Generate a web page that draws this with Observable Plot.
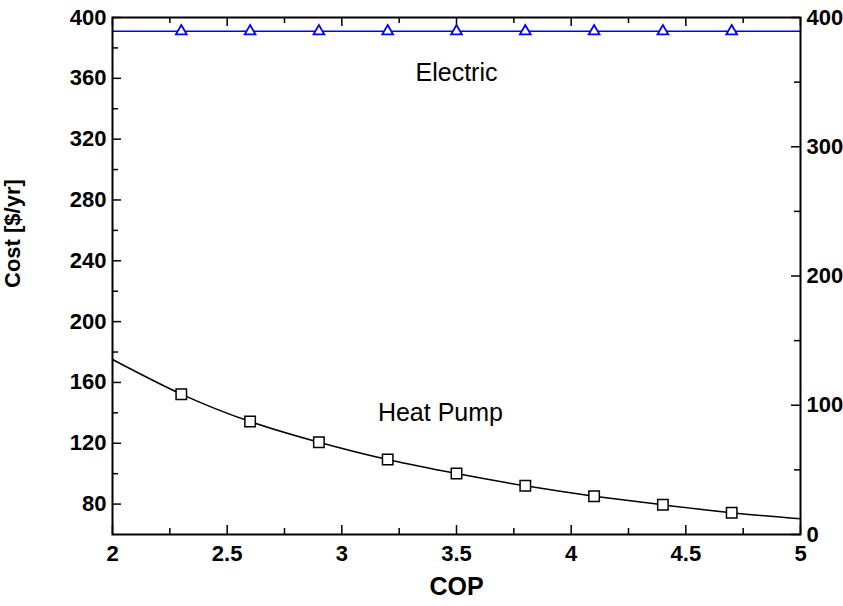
<!DOCTYPE html>
<html>
<head>
<meta charset="utf-8">
<script src="https://cdn.jsdelivr.net/npm/d3@7"></script>
<script src="https://cdn.jsdelivr.net/npm/@observablehq/plot@0.6"></script>
<style>
  html, body { margin: 0; padding: 0; background: #fff; }
</style>
</head>
<body>
<div id="chart"></div>
<script>
// ---- data ----
const cop = [2, 2.3, 2.6, 2.9, 3.2, 3.5, 3.8, 4.1, 4.4, 4.7, 5];
const heatPump = [175.1, 152.3, 134.3, 120.7, 109.3, 100.1, 92.0, 85.2, 79.5, 74.3, 70.3];
const electric = [391, 391, 391, 391, 391, 391, 391, 391, 391, 391, 391];
const markerCop = [2.3, 2.6, 2.9, 3.2, 3.5, 3.8, 4.1, 4.4, 4.7];

// axis ticks
const xMajor = [2, 2.5, 3, 3.5, 4, 4.5, 5];
const xMinor = [2.25, 2.75, 3.25, 3.75, 4.25, 4.75];
const leftMajor = [80, 120, 160, 200, 240, 280, 320, 360, 400];
const leftMinor = [100, 140, 180, 220, 260, 300, 340, 380];
const rightMajor = [0, 100, 200, 300, 400];
const rightMinor = [50, 150, 250, 350];

// labels
const seriesLabels = [
  {name: "Electric", x: 3.5, y: 363.8},
  {name: "Heat Pump", x: 3.43, y: 140.2}
];
const xTitle = "COP";
const yTitle = "Cost [$/yr]";

// left axis domain and right axis mapping (right 0..400 spans the same frame)
const leftDomain = [60, 400];
const rightDomain = [0, 400];
const toLeft = r => leftDomain[0] + (r - rightDomain[0]) * (leftDomain[1] - leftDomain[0]) / (rightDomain[1] - rightDomain[0]);
const fromLeft = v => rightDomain[0] + (v - leftDomain[0]) * (rightDomain[1] - rightDomain[0]) / (leftDomain[1] - leftDomain[0]);

const lineData = cop.map((c, i) => ({cop: c, hp: heatPump[i], el: electric[i]}));
const markerData = lineData.filter(d => markerCop.includes(d.cop));

const W = 843, H = 606;
const mL = 112, mR = 43, mT = 17, mB = 72;
const fw = W - mL - mR, fh = H - mT - mB;
const majorLen = 9, minorLen = 6;
const tickFont = 22;

const chart = Plot.plot({
  width: W,
  height: H,
  marginLeft: mL,
  marginRight: mR,
  marginTop: mT,
  marginBottom: mB,
  style: {fontFamily: "'Liberation Sans', Arial, sans-serif", fontSize: "22px", fontWeight: "bold", color: "black", background: "white"},
  x: {domain: [2, 5]},
  y: {domain: leftDomain},
  marks: [
    // inward ticks
    Plot.tickX(xMajor, {x: d => d, insetTop: fh - majorLen, strokeWidth: 1.5, stroke: "black"}),
    Plot.tickX(xMinor, {x: d => d, insetTop: fh - minorLen, strokeWidth: 1.5, stroke: "black"}),
    Plot.tickX(xMajor, {x: d => d, insetBottom: fh - majorLen, strokeWidth: 1.5, stroke: "black"}),
    Plot.tickX(xMinor, {x: d => d, insetBottom: fh - minorLen, strokeWidth: 1.5, stroke: "black"}),
    Plot.tickY(leftMajor, {y: d => d, insetRight: fw - majorLen, strokeWidth: 1.5, stroke: "black"}),
    Plot.tickY(leftMinor, {y: d => d, insetRight: fw - minorLen, strokeWidth: 1.5, stroke: "black"}),
    Plot.tickY(rightMajor.map(toLeft), {y: d => d, insetLeft: fw - majorLen, strokeWidth: 1.5, stroke: "black"}),
    Plot.tickY(rightMinor.map(toLeft), {y: d => d, insetLeft: fw - minorLen, strokeWidth: 1.5, stroke: "black"}),
    // axis labels
    Plot.axisX({ticks: xMajor, tickSize: 0, tickPadding: 11, tickFormat: d => String(d), label: null, fontSize: tickFont, fontWeight: "bold"}),
    Plot.axisY({anchor: "left", ticks: leftMajor, tickSize: 0, tickPadding: 6, tickFormat: d => String(d), label: null, fontSize: tickFont, fontWeight: "bold"}),
    Plot.axisY({anchor: "right", ticks: rightMajor.map(toLeft), tickSize: 0, tickPadding: 6, tickFormat: d => String(Math.round(fromLeft(d))), label: null, fontSize: tickFont, fontWeight: "bold"}),
    // series
    Plot.line(lineData, {x: "cop", y: "el", stroke: "blue", strokeWidth: 1.5}),
    Plot.line(lineData, {x: "cop", y: "hp", stroke: "black", strokeWidth: 1.5, curve: "natural"}),
    Plot.dot(markerData, {x: "cop", y: "el", symbol: "triangle", r: 4, stroke: "blue", fill: "white", strokeWidth: 1.8}),
    Plot.dot(markerData, {x: "cop", y: "hp", symbol: "square", r: 5.9, stroke: "black", fill: "white", strokeWidth: 1.5}),
    // series annotations
    Plot.text(seriesLabels, {x: "x", y: "y", text: "name", fontSize: 25, fontWeight: "normal", fill: "black"}),
    // titles
    Plot.text([xTitle], {frameAnchor: "bottom", dy: 60, fontSize: 25, fontWeight: "bold", fill: "black"}),
    Plot.text([yTitle], {frameAnchor: "left", dx: -100, dy: 12, rotate: -90, fontSize: 22, fontWeight: "bold", fill: "black"}),
    Plot.frame({stroke: "black", strokeWidth: 2})
  ]
});
document.getElementById("chart").append(chart);
</script>
</body>
</html>
